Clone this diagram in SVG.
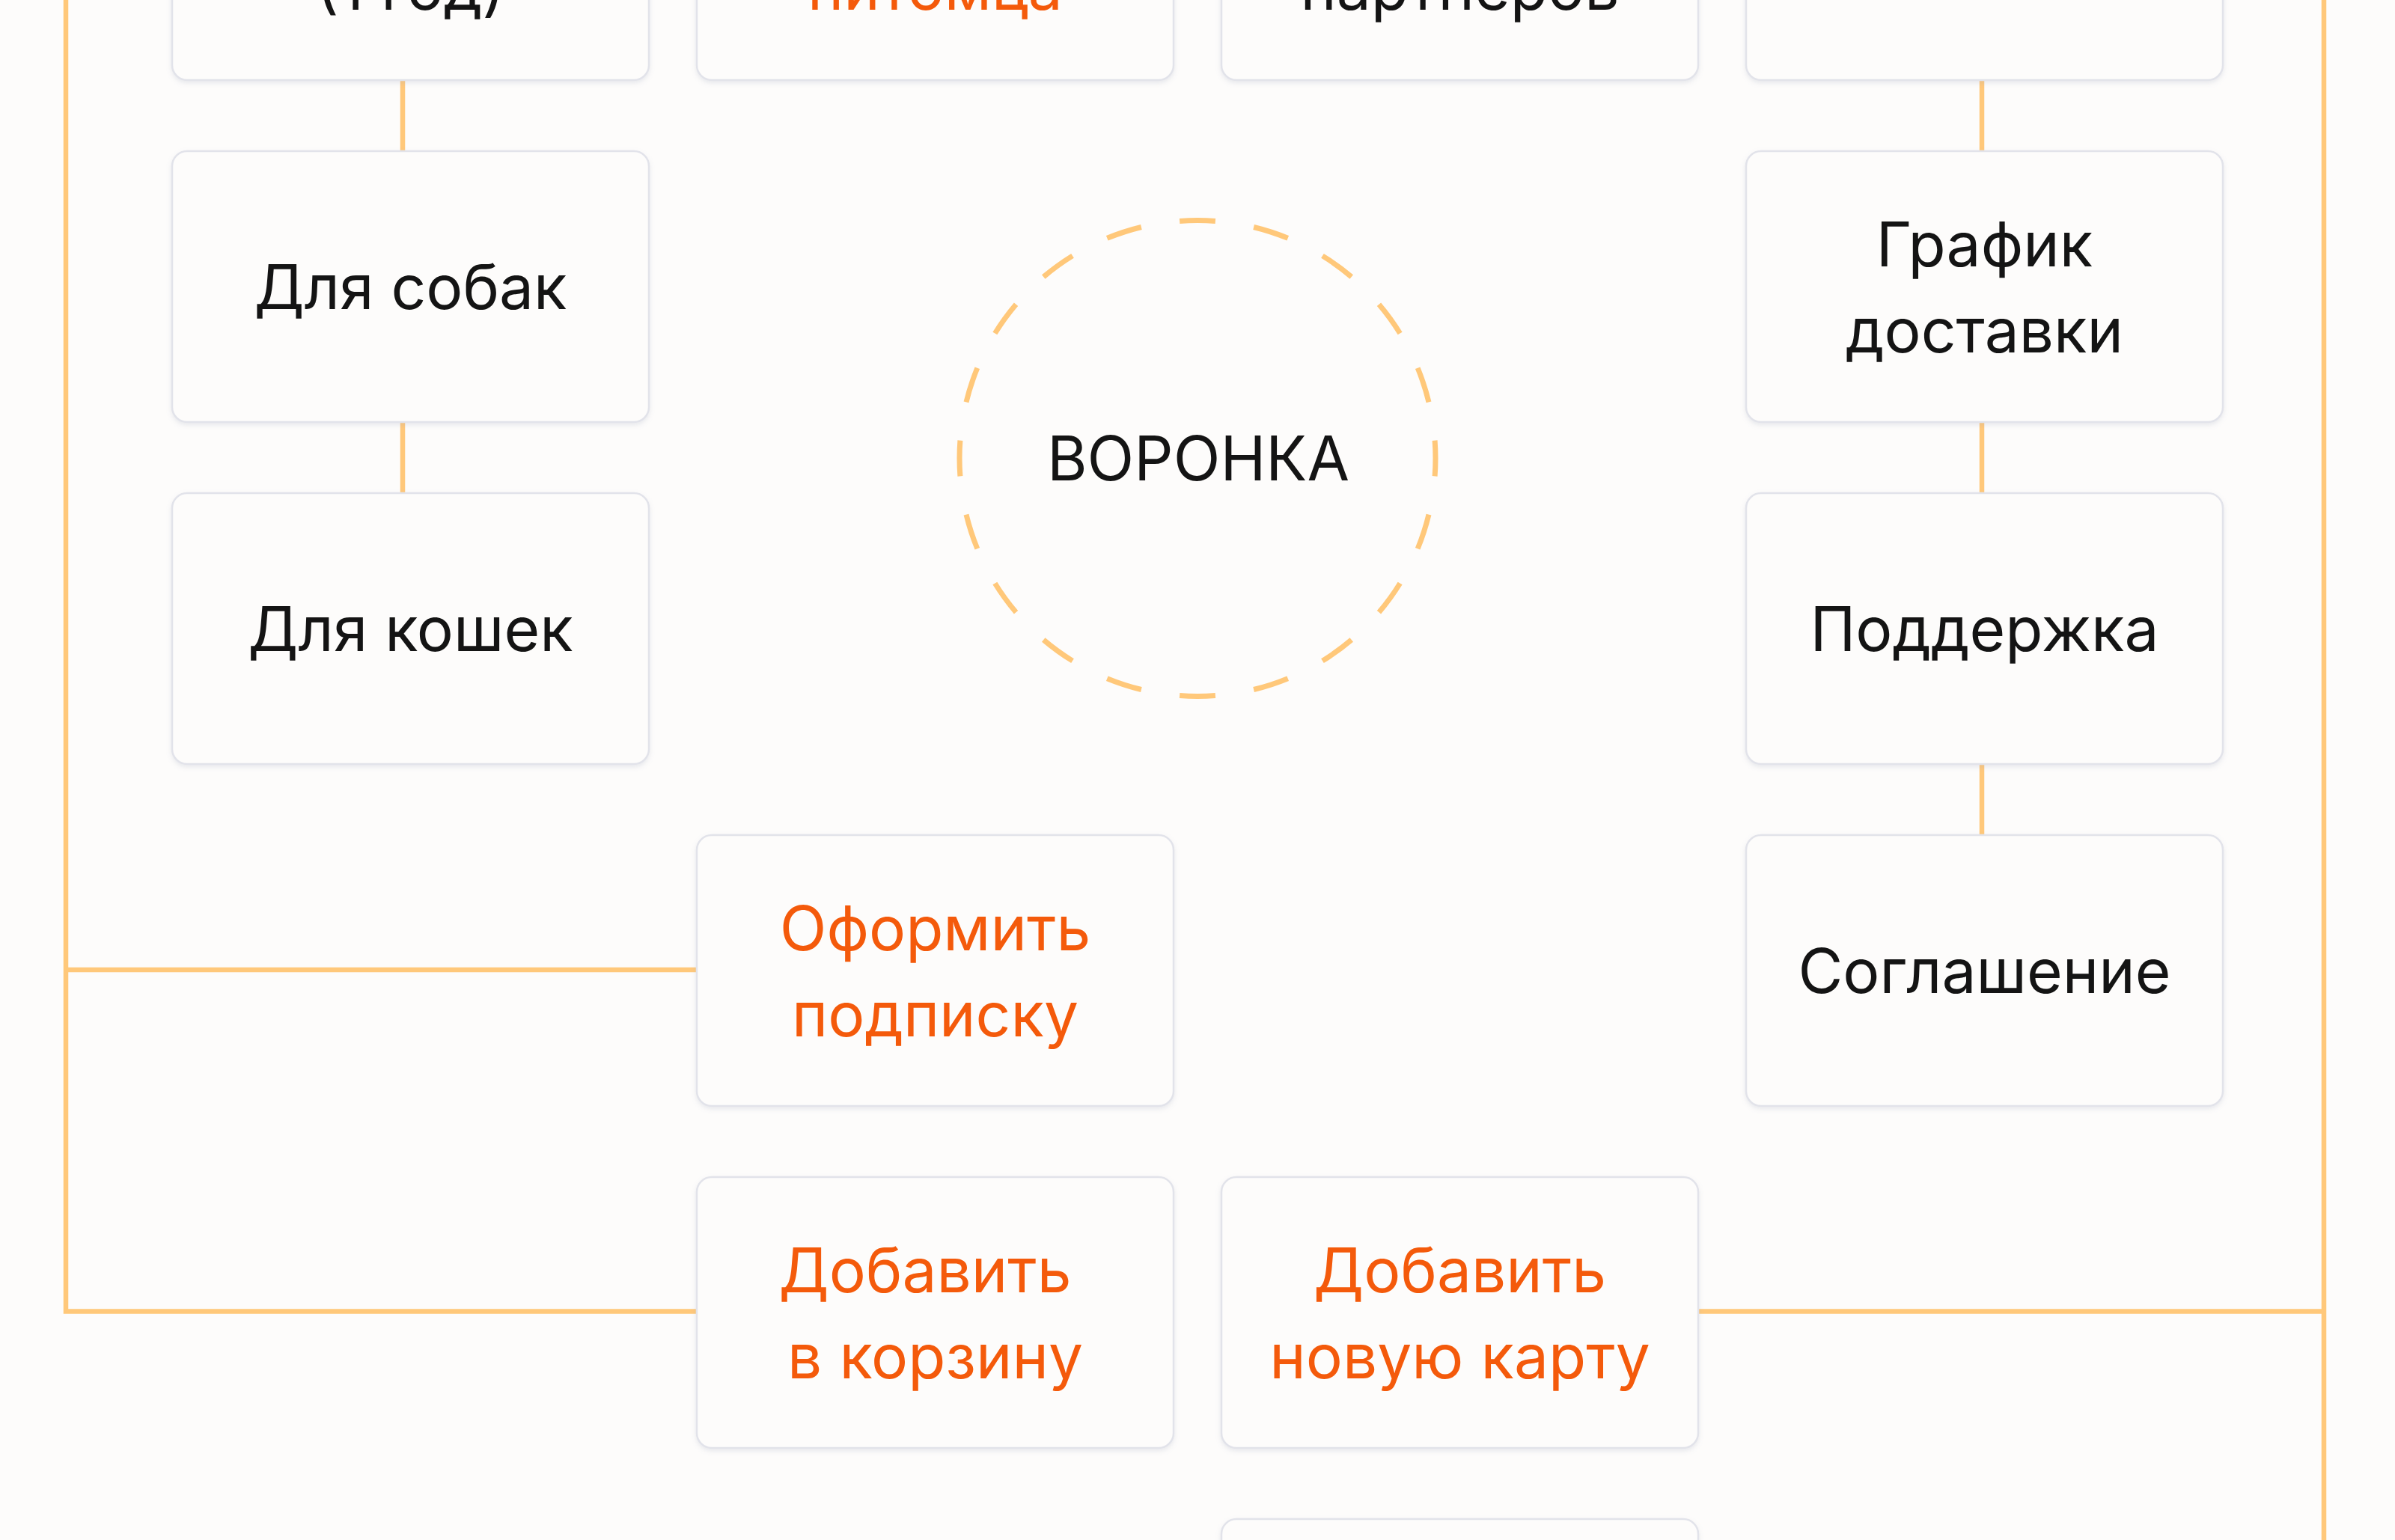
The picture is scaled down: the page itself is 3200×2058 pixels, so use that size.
<svg xmlns="http://www.w3.org/2000/svg" width="3200" height="2058" viewBox="0 0 3200 2058">
  <defs>
    <filter id="shadow" x="-10%" y="-10%" width="120%" height="125%">
      <feDropShadow dx="0" dy="3" stdDeviation="3" flood-color="#9aa0b8" flood-opacity="0.22"/>
    </filter>
    <style>
      .bg { fill: #fdfcfb; }
      .box { fill: #fdfcfb; stroke: #e2e3ea; stroke-width: 2.5; filter: url(#shadow); }
      .link { fill: none; stroke: #ffc87a; stroke-width: 6.5; stroke-linejoin: miter; stroke-linecap: butt; }
      .lbl { font-family: Inter, "Noto Sans", "Liberation Sans", sans-serif; font-size: 82px; text-anchor: middle; }
      .dark { fill: #141414; }
      .orange { fill: #f45a0b; }
      .ring { fill: none; stroke: #ffc87a; stroke-width: 7; stroke-dasharray: 48 52; stroke-dashoffset: 24; }
    </style>
  </defs>

  <rect class="bg" x="0" y="0" width="3200" height="2058"/>

  <g id="connectors">
    <path class="link" d="M88,-10 L88,1752.5 L931,1752.5"/>
    <path class="link" d="M88,1296 L931,1296"/>
    <path class="link" d="M3105,-10 L3105,2070"/>
    <path class="link" d="M2269,1752.5 L3105,1752.5"/>
    <path class="link" d="M538,107 L538,202"/>
    <path class="link" d="M538,564 L538,659"/>
    <path class="link" d="M2648,107 L2648,202"/>
    <path class="link" d="M2648,564 L2648,659"/>
    <path class="link" d="M2648,1021 L2648,1116"/>
  </g>

  <g id="node-r0c1">
    <rect class="box" x="230" y="-255" width="637" height="362" rx="20"/>
    <text class="lbl dark" x="548.5" y="13">(1 год)</text>
  </g>
  <g id="node-r0c2">
    <rect class="box" x="931" y="-255" width="637" height="362" rx="20"/>
    <text class="lbl orange" x="1249.5" y="13">питомца</text>
  </g>
  <g id="node-r0c3">
    <rect class="box" x="1632" y="-255" width="637" height="362" rx="20"/>
    <text class="lbl dark" x="1950.5" y="13">партнеров</text>
  </g>
  <g id="node-r0c4">
    <rect class="box" x="2333" y="-255" width="637" height="362" rx="20"/>
  </g>

  <g id="node-dogs">
    <rect class="box" x="230" y="202" width="637" height="362" rx="20"/>
    <text class="lbl dark" x="548.5" y="413">Для собак</text>
  </g>
  <g id="node-schedule">
    <rect class="box" x="2333" y="202" width="637" height="362" rx="20"/>
    <text class="lbl dark" x="2651.5" y="355.5">График</text>
    <text class="lbl dark" x="2651.5" y="470.5">доставки</text>
  </g>

  <g id="node-cats">
    <rect class="box" x="230" y="659" width="637" height="362" rx="20"/>
    <text class="lbl dark" x="548.5" y="870">Для кошек</text>
  </g>
  <g id="node-funnel">
    <circle class="ring" cx="1600" cy="612.5" r="318" pathLength="2000"/>
    <text class="lbl dark" x="1601" y="642">ВОРОНКА</text>
  </g>
  <g id="node-support">
    <rect class="box" x="2333" y="659" width="637" height="362" rx="20"/>
    <text class="lbl dark" x="2651.5" y="870">Поддержка</text>
  </g>

  <g id="node-subscribe">
    <rect class="box" x="931" y="1116" width="637" height="362" rx="20"/>
    <text class="lbl orange" x="1249.5" y="1269.5">Оформить</text>
    <text class="lbl orange" x="1249.5" y="1384.5">подписку</text>
  </g>
  <g id="node-agreement">
    <rect class="box" x="2333" y="1116" width="637" height="362" rx="20"/>
    <text class="lbl dark" x="2651.5" y="1327">Соглашение</text>
  </g>

  <g id="node-cart">
    <rect class="box" x="931" y="1573" width="637" height="362" rx="20"/>
    <text class="lbl orange" x="1236" y="1726.5">Добавить</text>
    <text class="lbl orange" x="1249.5" y="1841.5">в корзину</text>
  </g>
  <g id="node-card">
    <rect class="box" x="1632" y="1573" width="637" height="362" rx="20"/>
    <text class="lbl orange" x="1950.5" y="1726.5">Добавить</text>
    <text class="lbl orange" x="1950.5" y="1841.5">новую карту</text>
  </g>

  <g id="node-r5c3">
    <rect class="box" x="1632" y="2030" width="637" height="362" rx="20"/>
  </g>
</svg>
